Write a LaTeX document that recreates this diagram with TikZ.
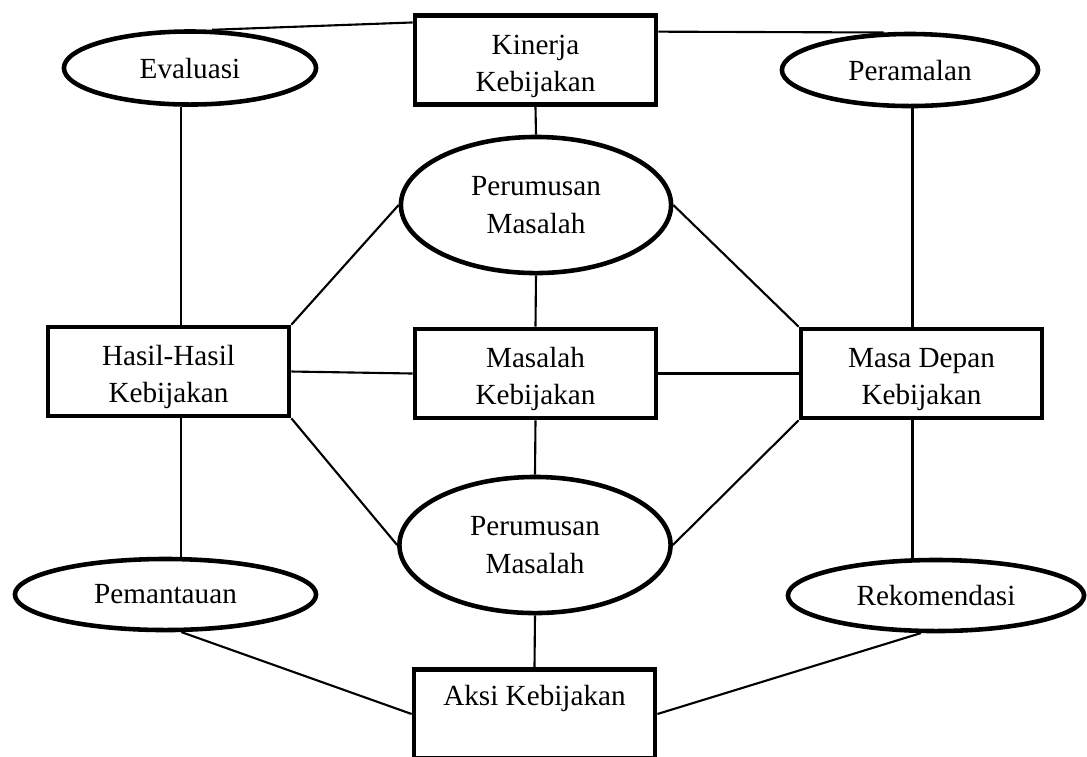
\documentclass[tikz,border=0pt]{standalone}
\usepackage{fontspec}
\setmainfont{Liberation Serif}
\usetikzlibrary{shapes.geometric}

\begin{document}
\begin{tikzpicture}[x=0.01cm,y=-0.01cm,
	kotak/.style={draw,rectangle,line width=1.3pt,inner sep=0pt,minimum width=2.41cm,minimum height=0.89cm,align=center,font=\fontsize{8.3}{10.6}\selectfont},
	elips/.style={draw,ellipse,line width=1.3pt,inner sep=0pt,align=center,font=\fontsize{8.3}{10.6}\selectfont},
	garis/.style={black,line width=0.6pt}]
		\useasboundingbox (0,0) rectangle (1087,756);
		\clip (0,0) rectangle (1087,756);
		%boxes
		\node[kotak] (kinerja) at (535.5,60) {\rule{0pt}{9pt}Kinerja\\Kebijakan};
		\node[kotak] (hasil) at (168.5,371.5) {\rule{0pt}{9pt}Hasil-Hasil\\Kebijakan};
		\node[kotak] (masalah) at (535.5,373.5) {\rule{0pt}{9pt}Masalah\\Kebijakan};
		\node[kotak] (masa) at (921.5,373.5) {\rule{0pt}{9pt}Masa Depan\\Kebijakan};
		\node[kotak] (aksi) at (534.5,714) {Aksi Kebijakan\\~};
		%ellipses
		\node[elips,minimum width=2.52cm,minimum height=0.73cm] (eval) at (190,68) {Evaluasi};
		\node[elips,minimum width=2.56cm,minimum height=0.72cm] (ramal) at (910,70) {Peramalan};
		\node[elips,minimum width=2.70cm,minimum height=1.36cm] (rumus1) at (536,205) {Perumusan\\Masalah};
		\node[elips,minimum width=2.71cm,minimum height=1.36cm] (rumus2) at (535,545) {Perumusan\\Masalah};
		\node[elips,minimum width=3.01cm,minimum height=0.71cm] (pantau) at (165.5,594.5) {Pemantauan};
		\node[elips,minimum width=2.96cm,minimum height=0.71cm] (rekom) at (936,595.5) {Rekomendasi};
		%vertical line positions
		\coordinate (kiri) at (181,0);
		\coordinate (kanan) at (912.5,0);
		%top lines
		\draw[garis] (eval.60) -- (kinerja.163);
		\draw[garis] (kinerja.13) -- (ramal.125);
		\draw[garis] (kinerja.south) -- (rumus1.north);
		%side lines
		\draw[garis] (kiri |- eval.south) -- (kiri |- hasil.north);
		\draw[garis] (kiri |- hasil.south) -- (kiri |- pantau.north);
		\draw[garis] (kanan |- ramal.south) -- (kanan |- masa.north);
		\draw[garis] (kanan |- masa.south) -- (kanan |- rekom.north);
		%middle
		\draw[garis] (hasil.north east) -- (rumus1.west);
		\draw[garis] (rumus1.east) -- (masa.north west);
		\draw[garis] (hasil.south east) -- (rumus2.west);
		\draw[garis] (rumus2.east) -- (masa.south west);
		\draw[garis] (hasil.east) -- (masalah.west);
		\draw[garis] (masalah.east) -- (masa.west);
		\draw[garis] (rumus1.south) -- (masalah.north);
		\draw[garis] (masalah.south) -- (rumus2.north);
		\draw[garis] (rumus2.south) -- (aksi.north);
		%bottom lines
		\draw[garis] (pantau.-67) -- (aksi.west);
		\draw[garis] (rekom.-112) -- (aksi.east);
	\end{tikzpicture}
\end{document}
